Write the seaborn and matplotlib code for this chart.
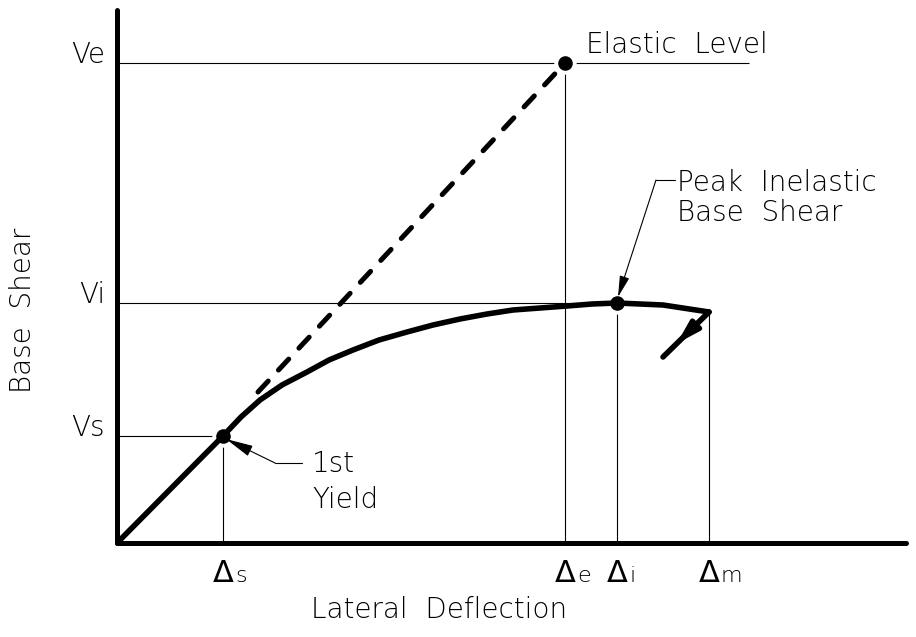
import seaborn as sns
import matplotlib.pyplot as plt

# levels (arbitrary units, origin at the axes corner)
delta_s, delta_e, delta_i, delta_m = 106, 448, 500, 592
v_s, v_i, v_e = 107, 240, 480

# capacity curve: linear up to 1st yield, then softening up to max deflection
curve_x = [0, 106, 124, 143, 165, 190, 212, 236, 262, 290, 316, 343, 370, 396,
           423, 450, 475, 500, 546, 592]
curve_y = [0, 107, 126, 143, 158, 171, 183, 193, 203, 211, 218, 224, 229, 233,
           235, 237, 239, 240, 238, 231]

# elastic response continued past 1st yield (dashed)
elastic_x = [141, 448]
elastic_y = [151, 480]

# unloading branch after max deflection
unload_x = [592, 546]
unload_y = [231, 186]

sns.set_style('white')
plt.rcParams['font.family'] = ['DejaVu Sans']
# extra light weight, closer to the thin CAD lettering
TXT = dict(fontsize=20, fontweight=200, color='black')
THIN = dict(lw=0.8, color='black')

fig = plt.figure(figsize=(9.16, 6.37), dpi=100)
ax = fig.add_axes([117 / 916, 94 / 637, 789 / 916, 533 / 637])

# thin reference lines
ax.hlines(v_e, 0, 632, zorder=1, **THIN)
ax.hlines([v_s, v_i], 0, [delta_s, delta_i], zorder=1, **THIN)
ax.vlines([delta_s, delta_e, delta_i, delta_m], 0,
          [v_s, v_e, v_i, curve_y[-1]], zorder=1, **THIN)

# white halo round the dots so the thin lines stop short
pts_x = [delta_s, delta_e, delta_i]
pts_y = [v_s, v_e, v_i]
sns.scatterplot(x=pts_x, y=pts_y, s=260, color='white', linewidth=0, zorder=2, ax=ax)

sns.lineplot(x=curve_x, y=curve_y, sort=False, estimator=None, color='black',
             lw=4, zorder=3, ax=ax)
sns.lineplot(x=elastic_x, y=elastic_y, sort=False, estimator=None, color='black',
             lw=3.6, zorder=3, ax=ax)
dash = ax.lines[-1]
dash.set_dashes((3, 3))
dash.set_dash_capstyle('round')
sns.lineplot(x=unload_x, y=unload_y, sort=False, estimator=None, color='black',
             lw=4, zorder=3, ax=ax)
for ln in ax.lines:
    ln.set_solid_capstyle('round')
    ln.set_solid_joinstyle('round')

# arrowhead on the unloading branch
t = 0.7
tip = (unload_x[0] + t * (unload_x[1] - unload_x[0]),
       unload_y[0] + t * (unload_y[1] - unload_y[0]))
ax.annotate('', xy=tip, xytext=(unload_x[0], unload_y[0]),
            arrowprops=dict(arrowstyle='-|>,head_length=1.3,head_width=0.38',
                            lw=3.6, color='black', shrinkA=0, shrinkB=0), zorder=4)

sns.scatterplot(x=pts_x, y=pts_y, s=110, color='black', linewidth=0, zorder=5, ax=ax)

ax.set_xlim(0, 789)
ax.set_ylim(0, 533)
ax.set_xticks([])
ax.set_yticks([])
sns.despine(ax=ax)
for side in ['left', 'bottom']:
    ax.spines[side].set_linewidth(3.6)
    ax.spines[side].set_capstyle('round')
    ax.spines[side].set_color('black')

# shear levels
for v, lab in zip([v_s, v_i, v_e], ['Vs', 'Vi', 'Ve']):
    ax.text(-12, v, lab, ha='right', va='baseline', **TXT)

# deflection levels
for d, sub in zip([delta_s, delta_e, delta_i, delta_m], ['s', 'e', 'i', 'm']):
    ax.text(d, -39, 'Δ', ha='center', va='baseline', fontsize=22, color='black')
    ax.text(d + 12, -39, sub, ha='left', va='baseline', fontsize=16,
            fontweight=200, color='black')

ax.text(delta_e + 21, v_e + 10, 'Elastic  Level', ha='left', va='baseline', **TXT)

# peak inelastic base shear call-out
ax.text(delta_i + 60, v_i + 112, 'Peak  Inelastic', ha='left', va='baseline', **TXT)
ax.text(delta_i + 60, v_i + 82, 'Base  Shear', ha='left', va='baseline', **TXT)
ax.plot([delta_i + 58, delta_i + 39], [v_i + 123, v_i + 123], **THIN)
ax.annotate('', xy=(delta_i + 1, v_i + 6), xytext=(delta_i + 39, v_i + 123),
            arrowprops=dict(arrowstyle='-|>,head_length=1.3,head_width=0.3',
                            lw=0.8, color='black', shrinkA=0, shrinkB=0), zorder=6)

# 1st yield call-out
ax.text(delta_s + 89, v_s - 36, '1st', ha='left', va='baseline', **TXT)
ax.text(delta_s + 89, v_s - 72, 'Yield', ha='left', va='baseline', **TXT)
ax.plot([delta_s + 79, delta_s + 52], [v_s - 27, v_s - 27], **THIN)
ax.annotate('', xy=(delta_s + 3, v_s - 3), xytext=(delta_s + 52, v_s - 27),
            arrowprops=dict(arrowstyle='-|>,head_length=1.7,head_width=0.35',
                            lw=0.8, color='black', shrinkA=0, shrinkB=0), zorder=6)

ax.set_xlabel('Lateral  Deflection', va='baseline', **TXT)
ax.xaxis.set_label_coords(322 / 789, -75 / 533)
ax.set_ylabel('Base  Shear', va='center', **TXT)
ax.yaxis.set_label_coords(-94 / 789, 233 / 533)

fig.savefig('out.png', dpi=100)
